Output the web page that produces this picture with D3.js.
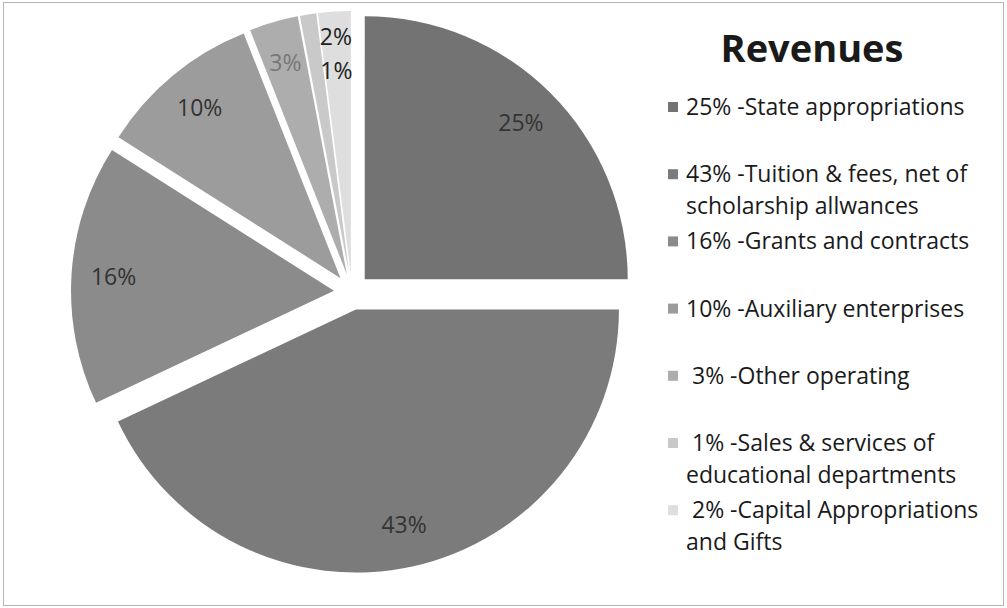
<!DOCTYPE html>
<html>
<head>
<meta charset="utf-8">
<script src="https://cdn.jsdelivr.net/npm/d3@7"></script>
<style>
  body { margin: 0; background: #fff; }
  text { font-family: "Open Sans", "Noto Sans", sans-serif; }
</style>
</head>
<body>
<div id="chart"></div>
<script>
// slice values, in legend order
var values = [25, 43, 16, 10, 3, 1, 2];
var sliceLabels = ["25%", "43%", "16%", "10%", "3%", "1%", "2%"];
var legendLines = [
  ["25% -State appropriations"],
  ["43% -Tuition & fees, net of", "scholarship allwances"],
  ["16% -Grants and contracts"],
  ["10% -Auxiliary enterprises"],
  [" 3% -Other operating"],
  [" 1% -Sales & services of", "educational departments"],
  [" 2% -Capital Appropriations", "and Gifts"]
];
var colors = ["#737373", "#7b7b7b", "#8b8b8b", "#9c9c9c", "#adadad", "#c9c9c9", "#dedede"];
var labelColors = ["#333", "#333", "#333", "#333", "#777", "#222", "#222"];

var width = 1007, height = 608;
var cx = 352, cy = 292, radius = 263, explode = 18;

var svg = d3.select("#chart")
  .append("svg")
  .attr("width", width)
  .attr("height", height);

svg.append("rect")
  .attr("x", 3.5).attr("y", 2.5)
  .attr("width", 1000).attr("height", 603)
  .attr("fill", "none")
  .attr("stroke", "#b5b5b5");

var pie = d3.pie().sort(null).value(d => d);
var arcs = pie(values);
var arc = d3.arc().innerRadius(0).outerRadius(radius);
var labelArc = d3.arc().innerRadius(radius * 0.84).outerRadius(radius * 0.84);

function shift(a) {
  var mid = (a.startAngle + a.endAngle) / 2;
  return [Math.sin(mid) * explode, -Math.cos(mid) * explode];
}

var g = svg.append("g")
  .attr("transform", "translate(" + cx + "," + cy + ")");

g.selectAll("path.slice")
  .data(arcs)
  .enter().append("path")
  .attr("class", "slice")
  .attr("transform", d => "translate(" + shift(d) + ")")
  .attr("d", arc)
  .attr("fill", (d, i) => colors[i]);

// tiny slices get their labels stacked along the last slice's bisector
var last = arcs[arcs.length - 1];
g.selectAll("text.lbl")
  .data(arcs)
  .enter().append("text")
  .attr("class", "lbl")
  .attr("transform", function(d, i) {
    var s = shift(d);
    if (values[i] < 3) {
      var mid = (last.startAngle + last.endAngle) / 2;
      var r = values[i] === 2 ? radius * 0.905 : radius * 0.775;
      return "translate(" + [s[0] + Math.sin(mid) * r, s[1] - Math.cos(mid) * r] + ")";
    }
    var c = labelArc.centroid(d);
    return "translate(" + [s[0] + c[0], s[1] + c[1]] + ")";
  })
  .attr("text-anchor", "middle")
  .attr("dy", "0.35em")
  .attr("font-size", 23)
  .attr("fill", (d, i) => labelColors[i])
  .text((d, i) => sliceLabels[i]);

svg.append("text")
  .attr("x", 812).attr("y", 62)
  .attr("text-anchor", "middle")
  .attr("font-size", 38)
  .attr("font-weight", "bold")
  .attr("fill", "#1a1a1a")
  .text("Revenues");

var legend = svg.append("g")
  .attr("transform", "translate(668,107)");

var items = legend.selectAll("g.item")
  .data(legendLines)
  .enter().append("g")
  .attr("class", "item")
  .attr("transform", (d, i) => "translate(0," + (i * 67.2) + ")");

items.append("rect")
  .attr("x", 0).attr("y", -5)
  .attr("width", 10).attr("height", 10)
  .attr("fill", (d, i) => colors[i]);

items.selectAll("text")
  .data(d => d)
  .enter().append("text")
  .attr("x", 18)
  .attr("y", (d, j) => j * 32)
  .attr("dy", "0.35em")
  .attr("font-size", 23)
  .attr("fill", "#1a1a1a")
  .attr("xml:space", "preserve")
  .style("white-space", "pre")
  .text(d => d);
</script>
</body>
</html>
